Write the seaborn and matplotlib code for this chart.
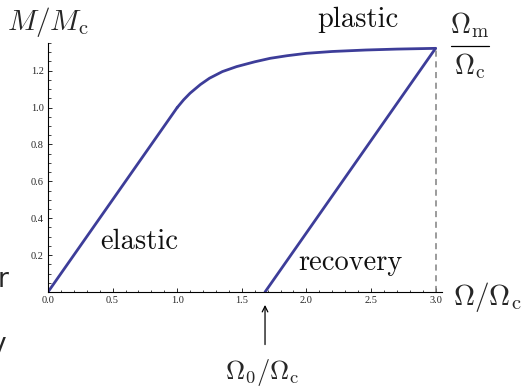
import matplotlib
matplotlib.use("Agg")
import matplotlib.pyplot as plt
from matplotlib.ticker import MultipleLocator
import seaborn as sns
import pandas as pd

# values
elastic_x = [0.0, 1.0]
elastic_y = [0.0, 1.0]
plastic_x = [1.0, 1.05, 1.1, 1.18, 1.25, 1.35, 1.46, 1.6, 1.72, 1.85, 2.0, 2.2, 2.46, 2.7, 3.0]
plastic_y = [1.0, 1.042, 1.078, 1.125, 1.159, 1.195, 1.222, 1.248, 1.267, 1.281, 1.294, 1.304, 1.312, 1.317, 1.321]
recovery_x = [1.68, 3.0]
recovery_y = [0.0, 1.321]
omega_m = 3.0
m_max = 1.321
omega_0 = 1.68

sns.set_style("ticks")
plt.rcParams["mathtext.fontset"] = "cm"

line_color = "#3d3d99"

fig = plt.figure(figsize=(5.22, 3.89), dpi=100)
ax = fig.add_axes([48/522, 1 - 292/389, 394/522, 249/389])

segs = [("elastic", elastic_x, elastic_y), ("plastic", plastic_x, plastic_y),
        ("recovery", recovery_x, recovery_y)]
for name, xs, ys in segs:
    d = pd.DataFrame({"x": xs, "y": ys})
    sns.lineplot(data=d, x="x", y="y", ax=ax, color=line_color, lw=2.0, sort=False,
                 estimator=None, solid_capstyle="round")

ax.plot([omega_m, omega_m], [0, m_max], color="#808080", lw=1.1, ls=(0, (4, 3)))

ax.set_xlim(0, 3.05)
ax.set_ylim(0, 1.35)
ax.set_xlabel("")
ax.set_ylabel("")
ax.xaxis.set_major_locator(MultipleLocator(0.5))
ax.xaxis.set_minor_locator(MultipleLocator(0.1))
ax.set_yticks([0.2, 0.4, 0.6, 0.8, 1.0, 1.2])
ax.yaxis.set_minor_locator(MultipleLocator(0.05))
ax.tick_params(which="major", direction="in", length=3.2, width=0.7, labelsize=7.5, pad=3)
ax.tick_params(which="minor", direction="in", length=1.8, width=0.6)
for lab in ax.get_xticklabels() + ax.get_yticklabels():
    lab.set_family("Liberation Serif")
sns.despine(ax=ax)
for s in ["left", "bottom"]:
    ax.spines[s].set_linewidth(0.8)
    ax.spines[s].set_color("black")

tfont = dict(family="cmr10", fontsize=20.5, color="#111111")
ax.text(0.71, 0.27, "elastic", ha="center", va="center", **tfont)
ax.text(2.34, 0.16, "recovery", ha="center", va="center", **tfont)
ax.text(2.40, 1.475, "plastic", ha="center", va="center", clip_on=False, **tfont)

# Omega_m / Omega_c fraction at the end point
fig.text(470/522, 1 - 25/389, r"$\Omega_{\rm m}$", ha="center", va="center", fontsize=20)
fig.text(470/522, 1 - 66/389, r"$\Omega_{\rm c}$", ha="center", va="center", fontsize=20)
fig.add_artist(plt.Line2D([451/522, 489/522], [1 - 46/389, 1 - 46/389],
                          color="black", lw=0.9, transform=fig.transFigure))

fig.text(487/522, 1 - 297/389, r"$\Omega/\Omega_{\rm c}$", ha="center", va="center", fontsize=21)
fig.text(48/522, 1 - 22/389, r"$M/M_{\rm c}$", ha="center", va="center", fontsize=21)
fig.text(262/522, 1 - 373/389, r"$\Omega_0/\Omega_{\rm c}$", ha="center", va="center", fontsize=19)

ax.annotate("", xy=(omega_0, -0.055), xytext=(omega_0, -0.3), xycoords="data",
            arrowprops=dict(arrowstyle="->", color="black", lw=0.9), annotation_clip=False)

# cropped characters at the left edge of the reference
fig.text(8/522, 1 - 280/389, "r", ha="right", va="center", fontsize=19, family="DejaVu Sans")
fig.text(6/522, 1 - 345/389, "y", ha="right", va="center", fontsize=19, family="DejaVu Sans")

fig.savefig("out.png", dpi=100)
